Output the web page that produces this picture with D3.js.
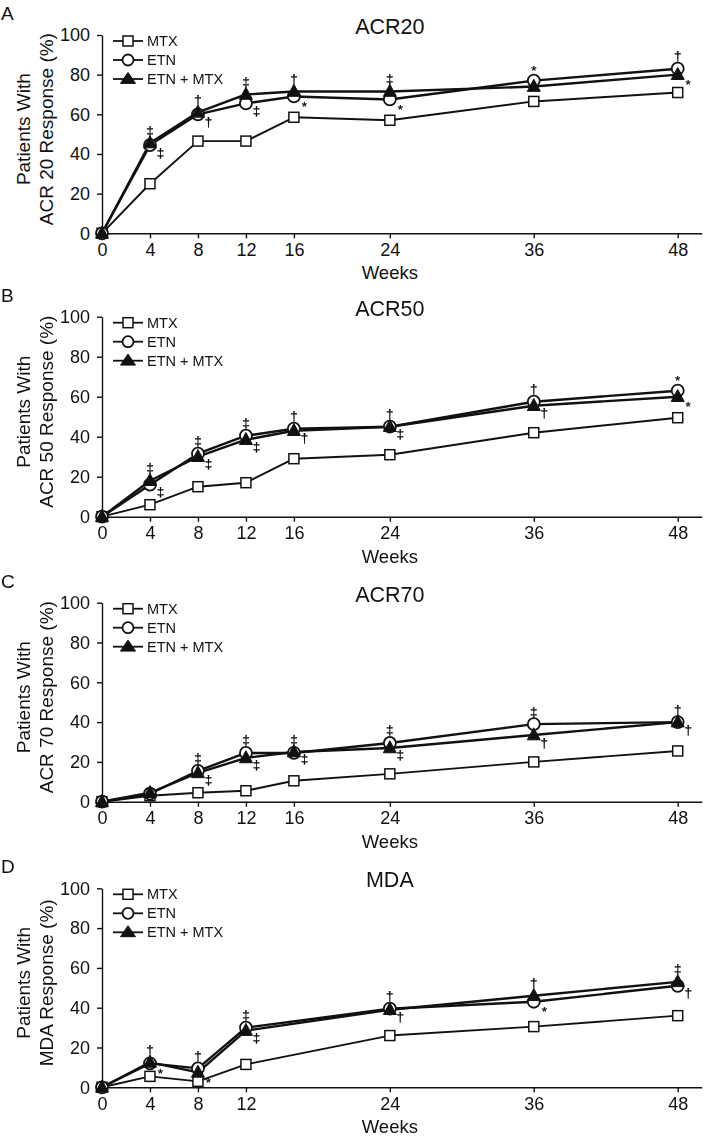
<!DOCTYPE html>
<html>
<head>
<meta charset="utf-8">
<script src="https://cdn.jsdelivr.net/npm/d3@7"></script>
<style>
html,body{margin:0;padding:0;background:#fff;}
svg{display:block;}
.sig{opacity:0.99;will-change:transform;}
</style>
</head>
<body>
<svg id="chart" width="709" height="1141"></svg>
<script>
// ---------- data ----------
const seriesNames = ["MTX", "ETN", "ETN + MTX"];
const panelLetters = ["A", "B", "C", "D"];
const panelTitles = ["ACR20", "ACR50", "ACR70", "MDA"];
const yLabelLine1 = ["Patients With", "Patients With", "Patients With", "Patients With"];
const yLabelLine2 = ["ACR 20 Response (%)", "ACR 50 Response (%)", "ACR 70 Response (%)", "MDA Response (%)"];
const xAxisTitle = "Weeks";
const yTicks = [0, 20, 40, 60, 80, 100];

const weeksACR = [0, 4, 8, 12, 16, 24, 36, 48];
const weeksMDA = [0, 4, 8, 12, 24, 36, 48];

// ACR20
const acr20MTX    = [0, 25, 46.5, 46.5, 58.5, 57, 66.5, 71];
const acr20ETN    = [0, 44.5, 60, 65.5, 69, 67.5, 77, 83];
const acr20ETNMTX = [0, 45.5, 61, 70, 71.5, 71.5, 74, 80];
// ACR50
const acr50MTX    = [0, 6, 15, 17, 29, 31, 42, 49.5];
const acr50ETN    = [0, 16, 31.5, 40.5, 44, 45, 57.5, 63];
const acr50ETNMTX = [0, 18, 30, 38.5, 43, 45, 55.5, 60];
// ACR70
const acr70MTX    = [0, 3, 4.5, 5.5, 10.5, 14, 20, 25.5];
const acr70ETN    = [0, 4, 15.5, 24.5, 24.5, 29.5, 39, 40];
const acr70ETNMTX = [0, 4.5, 14.5, 22, 25, 27, 33.5, 40];
// MDA
const mdaMTX      = [0, 5.5, 3, 11.5, 26, 30.5, 36];
const mdaETN      = [0, 12, 9.5, 30, 39.5, 43, 51];
const mdaETNMTX   = [0, 12.5, 7.5, 28.5, 39, 46, 53];

// significance marks: [week, series, symbol, side]
const marksACR20 = [
  [4, "ETN + MTX", "‡", "above"], [4, "ETN", "‡", "right"],
  [8, "ETN + MTX", "†", "above"], [8, "ETN", "†", "right"],
  [12, "ETN + MTX", "‡", "above"], [12, "ETN", "‡", "right"],
  [16, "ETN + MTX", "†", "above"], [16, "ETN", "*", "right"],
  [24, "ETN + MTX", "‡", "above"], [24, "ETN", "*", "right"],
  [36, "ETN", "*", "above"],
  [48, "ETN", "†", "above"], [48, "ETN + MTX", "*", "right"]
];
const marksACR50 = [
  [4, "ETN + MTX", "‡", "above"], [4, "ETN", "‡", "right"],
  [8, "ETN", "‡", "above"], [8, "ETN + MTX", "‡", "right"],
  [12, "ETN", "‡", "above"], [12, "ETN + MTX", "‡", "right"],
  [16, "ETN", "†", "above"], [16, "ETN + MTX", "†", "right"],
  [24, "ETN", "†", "above"], [24, "ETN + MTX", "‡", "right"],
  [36, "ETN", "†", "above"], [36, "ETN + MTX", "†", "right"],
  [48, "ETN", "*", "above"], [48, "ETN + MTX", "*", "right"]
];
const marksACR70 = [
  [8, "ETN", "‡", "above"], [8, "ETN + MTX", "‡", "right"],
  [12, "ETN", "‡", "above"], [12, "ETN + MTX", "‡", "right"],
  [16, "ETN", "‡", "above"], [16, "ETN + MTX", "‡", "right"],
  [24, "ETN", "‡", "above"], [24, "ETN + MTX", "‡", "right"],
  [36, "ETN", "‡", "above"], [36, "ETN + MTX", "†", "right"],
  [48, "ETN", "†", "above"], [48, "ETN + MTX", "†", "right"]
];
const marksMDA = [
  [4, "ETN + MTX", "†", "above"], [4, "ETN", "*", "right"],
  [8, "ETN", "†", "above"], [8, "ETN + MTX", "*", "right"],
  [12, "ETN", "‡", "above"], [12, "ETN + MTX", "‡", "right"],
  [24, "ETN", "†", "above"], [24, "ETN + MTX", "†", "right"],
  [36, "ETN + MTX", "†", "above"], [36, "ETN", "*", "right"],
  [48, "ETN + MTX", "‡", "above"], [48, "ETN", "†", "right"]
];

const panels = [
  {weeks: weeksACR, values: [acr20MTX, acr20ETN, acr20ETNMTX], marks: marksACR20},
  {weeks: weeksACR, values: [acr50MTX, acr50ETN, acr50ETNMTX], marks: marksACR50},
  {weeks: weeksACR, values: [acr70MTX, acr70ETN, acr70ETNMTX], marks: marksACR70},
  {weeks: weeksMDA, values: [mdaMTX, mdaETN, mdaETNMTX], marks: marksMDA}
];

// ---------- layout ----------
const panelTop = [35, 316.7, 602.7, 888.3];
const panelBottom = [233.3, 516.7, 801.7, 1087.3];
const FONT = "'Liberation Sans', Arial, Helvetica, sans-serif";
const INK = "#111";

const svg = d3.select("#chart");
const x = d3.scaleLinear().domain([0, 50]).range([102, 701.7]);

const lineWidths = [1.9, 2.4, 2.4];

function drawMarker(g, type, cx, cy, legend) {
  if (type === 0) {
    const s = 10;
    g.append("rect").attr("x", cx - s / 2).attr("y", cy - s / 2).attr("width", s).attr("height", s)
      .attr("fill", "#fff").attr("stroke", INK).attr("stroke-width", 1.5);
  } else if (type === 1) {
    g.append("circle").attr("cx", cx).attr("cy", cy).attr("r", legend ? 5.5 : 6)
      .attr("fill", "#fff").attr("stroke", INK).attr("stroke-width", 1.8);
  } else {
    const hw = legend ? 7.5 : 6.5, h = legend ? 11 : 12;
    const p = d3.path();
    p.moveTo(cx, cy - h * 0.6);
    p.lineTo(cx + hw, cy + h * 0.4);
    p.lineTo(cx - hw, cy + h * 0.4);
    p.closePath();
    g.append("path").attr("d", p.toString()).attr("fill", INK).attr("stroke", INK).attr("stroke-width", 1);
  }
}

panels.forEach((pd, i) => {
  const top = panelTop[i], bottom = panelBottom[i];
  const y = d3.scaleLinear().domain([0, 100]).range([bottom, top]);
  const g = svg.append("g");

  // panel letter
  g.append("text").attr("x", 1).attr("y", top - 15).text(panelLetters[i])
    .attr("font-family", FONT).attr("font-size", 19).attr("fill", INK);
  // title
  g.append("text").attr("x", x(24)).attr("y", top - 1).attr("text-anchor", "middle").text(panelTitles[i])
    .attr("font-family", FONT).attr("font-size", 21.5).attr("fill", INK);

  // axes
  const ya = g.append("g").attr("transform", `translate(${x(0)},0)`)
    .call(d3.axisLeft(y).tickValues(yTicks).tickSize(5).tickPadding(7).tickSizeOuter(0));
  const xa = g.append("g").attr("transform", `translate(0,${bottom})`)
    .call(d3.axisBottom(x).tickValues(pd.weeks).tickSize(5).tickPadding(5).tickSizeOuter(0));
  [ya, xa].forEach(a => {
    a.attr("font-family", FONT).attr("font-size", 18);
    a.selectAll("path,line").attr("stroke", INK).attr("stroke-width", 1.4);
    a.selectAll("text").attr("fill", INK);
  });

  // y label
  const cy = (top + bottom) / 2 - 5;
  g.append("text").attr("transform", `translate(30,${cy}) rotate(-90)`).attr("text-anchor", "middle")
    .text(yLabelLine1[i]).attr("font-family", FONT).attr("font-size", 19).attr("fill", INK);
  g.append("text").attr("transform", `translate(53,${cy}) rotate(-90)`).attr("text-anchor", "middle")
    .text(yLabelLine2[i]).attr("font-family", FONT).attr("font-size", 19).attr("fill", INK);

  // x label
  g.append("text").attr("x", x(24)).attr("y", bottom + 46).attr("text-anchor", "middle").text(xAxisTitle)
    .attr("font-family", FONT).attr("font-size", 18.5).attr("fill", INK);

  // lines
  const line = d3.line().x(d => x(d[0])).y(d => y(d[1]));
  pd.values.forEach((vals, s) => {
    const pts = pd.weeks.map((w, k) => [w, vals[k]]);
    g.append("path").attr("d", line(pts)).attr("fill", "none")
      .attr("stroke", INK).attr("stroke-width", lineWidths[s]).attr("stroke-linejoin", "round");
  });
  // markers
  pd.values.forEach((vals, s) => {
    pd.weeks.forEach((w, k) => drawMarker(g, s, x(w), y(vals[k]), false));
  });

  // significance marks
  const sg = g.append("g").attr("class", "sig");
  pd.marks.forEach(([w, sName, sym, side]) => {
    const s = seriesNames.indexOf(sName);
    const k = pd.weeks.indexOf(w);
    const px = x(w), py = y(pd.values[s][k]);
    let tx, tyc;
    if (side === "above") { tx = px; tyc = py - 13; }
    else { tx = px + 10.5; tyc = py + 7; }
    const base = tyc + (sym === "*" ? 7.5 : 4.5);
    sg.append("text").attr("x", tx).attr("y", base).attr("text-anchor", "middle").text(sym)
      .attr("font-family", FONT).attr("font-size", 13.5).attr("fill", "#000")
      .attr("stroke", "#000").attr("stroke-width", 0.25);
  });

  // legend
  const lg = g.append("g");
  seriesNames.forEach((name, s) => {
    const ly = top + 6 + s * 19;
    lg.append("line").attr("x1", 113).attr("x2", 143).attr("y1", ly).attr("y2", ly)
      .attr("stroke", INK).attr("stroke-width", 1.8);
    drawMarker(lg, s, 128, ly, true);
    lg.append("text").attr("x", 147).attr("y", ly + 5).text(name)
      .attr("font-family", FONT).attr("font-size", 14.5).attr("fill", INK);
  });
});
</script>
</body>
</html>
